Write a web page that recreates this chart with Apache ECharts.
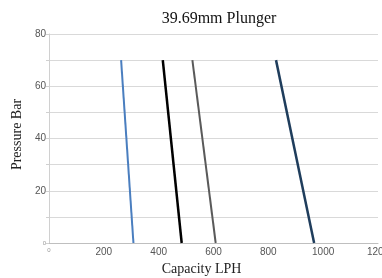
<!DOCTYPE html>
<html>
<head>
<meta charset="utf-8">
<script src="https://cdn.jsdelivr.net/npm/echarts@6/dist/echarts.min.js"></script>
<style>html,body{margin:0;padding:0;background:#fff}#c{width:382px;height:278px}</style>
</head>
<body>
<div id="c"></div>
<script>
// Pressure points (bar) for each curve
var pressures = [70, 0];
// Capacity (LPH) at each pressure point, one array per curve
var curveA = [263, 308];
var curveB = [415, 484];
var curveC = [523, 608];
var curveD = [828, 967];
var curveColors = ['#4a7ebf', '#000000', '#5a5a5a', '#1f3d5c'];
var curveWidths = [2, 2.5, 2, 2.5];
var xTicks = [0, 200, 400, 600, 800, 1000, 1200];
var yTicks = [0, 20, 40, 60, 80];

function pts(caps) { return caps.map(function (c, i) { return [c, pressures[i]]; }); }
var curves = [curveA, curveB, curveC, curveD];

var chart = echarts.init(document.getElementById('c'));
chart.setOption({
  animation: false,
  title: {
    text: '39.69mm Plunger',
    left: 214, textAlign: 'center', top: 6,
    textStyle: { fontFamily: 'Liberation Serif', fontSize: 16, fontWeight: 'normal', color: '#111' }
  },
  grid: { left: 49, right: 4, top: 34, bottom: 35, outerBoundsMode: 'none', containLabel: false },
  xAxis: {
    type: 'value', min: 0, max: 1200, interval: 200,
    name: 'Capacity LPH', nameLocation: 'middle', nameGap: 17,
    nameTextStyle: { fontFamily: 'Liberation Serif', fontSize: 14, color: '#222', padding: [0, 24, 0, 0] },
    axisLine: { show: true, lineStyle: { color: '#bfbfbf', width: 1 } },
    axisTick: { show: false },
    splitLine: { show: false },
    axisLabel: {
      margin: 4, fontFamily: 'Liberation Sans', fontSize: 10, color: '#555',
      formatter: function (v) { return xTicks.indexOf(v) === 0 ? '{s|' + v + '}' : String(v); },
      rich: { s: { fontSize: 6, color: '#999' } }
    }
  },
  yAxis: {
    type: 'value', min: 0, max: 80, interval: 10,
    name: 'Pressure Bar', nameLocation: 'middle', nameGap: 24,
    nameTextStyle: { fontFamily: 'Liberation Serif', fontSize: 14, color: '#222', padding: [0, 0, 0, 8] },
    axisLine: { show: true, lineStyle: { color: '#d0d0d0', width: 1 } },
    axisTick: { show: true, length: 3, lineStyle: { color: '#d0d0d0' } },
    splitLine: { show: true, lineStyle: { color: '#d9d9d9', width: 1 } },
    axisLabel: {
      margin: 3, fontFamily: 'Liberation Sans', fontSize: 10, color: '#555',
      formatter: function (v) {
        if (yTicks.indexOf(v) < 0) return '';
        return v === 0 ? '{s|0}' : String(v);
      },
      rich: { s: { fontSize: 6, color: '#999' } }
    }
  },
  series: curves.map(function (c, i) {
    return {
      type: 'line', data: pts(c), symbol: 'none',
      lineStyle: { color: curveColors[i], width: curveWidths[i] }
    };
  })
});
</script>
</body>
</html>
